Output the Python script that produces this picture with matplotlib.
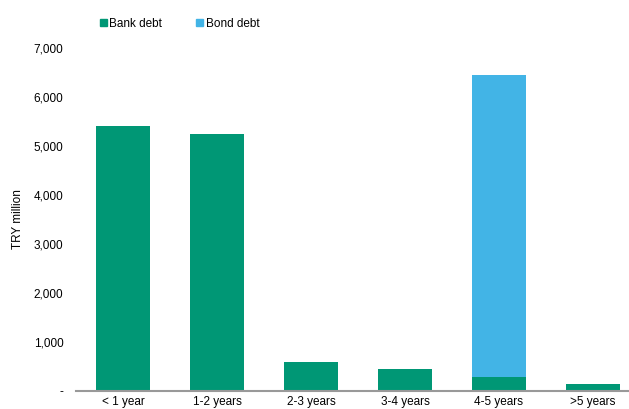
import matplotlib.pyplot as plt
import numpy as np
from matplotlib.patches import Patch

plt.rcParams['font.family'] = ['Liberation Sans', 'DejaVu Sans']

categories = ['< 1 year', '1-2 years', '2-3 years', '3-4 years', '4-5 years', '>5 years']
bank_debt = [5410, 5245, 590, 450, 285, 140]
bond_debt = [0, 0, 0, 0, 6165, 0]
yticks = [0, 1000, 2000, 3000, 4000, 5000, 6000, 7000]
ytick_labels = ['-', '1,000', '2,000', '3,000', '4,000', '5,000', '6,000', '7,000']

green = '#009775'
blue = '#42B4E6'

fig = plt.figure(figsize=(6.29, 4.09), dpi=100)
ax = fig.add_axes([76 / 629, 18 / 409, 564 / 629, 343 / 409])

x = np.arange(len(categories))
ax.bar(x, bank_debt, width=0.57, color=green, zorder=2)
ax.bar(x, bond_debt, width=0.57, bottom=bank_debt, color=blue, zorder=2)

ax.set_xlim(-0.5, len(categories) - 0.5)
ax.set_ylim(0, 7000)
ax.set_yticks(yticks)
ax.set_yticklabels(ytick_labels, fontsize=8.5)
ax.set_xticks(x)
ax.set_xticklabels(categories, fontsize=8.5)
ax.tick_params(axis='x', length=0, pad=3.5)
ax.tick_params(axis='y', length=0, pad=9)
ax.set_ylabel('TRY million', fontsize=8.5, labelpad=7)

for side in ['top', 'right', 'left']:
    ax.spines[side].set_visible(False)
ax.spines['bottom'].set_color('#999999')
ax.spines['bottom'].set_linewidth(1.5)
ax.spines['bottom'].set_zorder(3)

handles = [Patch(color=green, label='Bank debt'), Patch(color=blue, label='Bond debt')]
fig.legend(handles=handles, loc='upper left', bbox_to_anchor=(89 / 629, 1 - 7 / 409),
           ncol=2, frameon=False, fontsize=8.5, handlelength=0.6, handleheight=0.6,
           handletextpad=0.2, columnspacing=2.9)

fig.savefig('out.png', dpi=100)
